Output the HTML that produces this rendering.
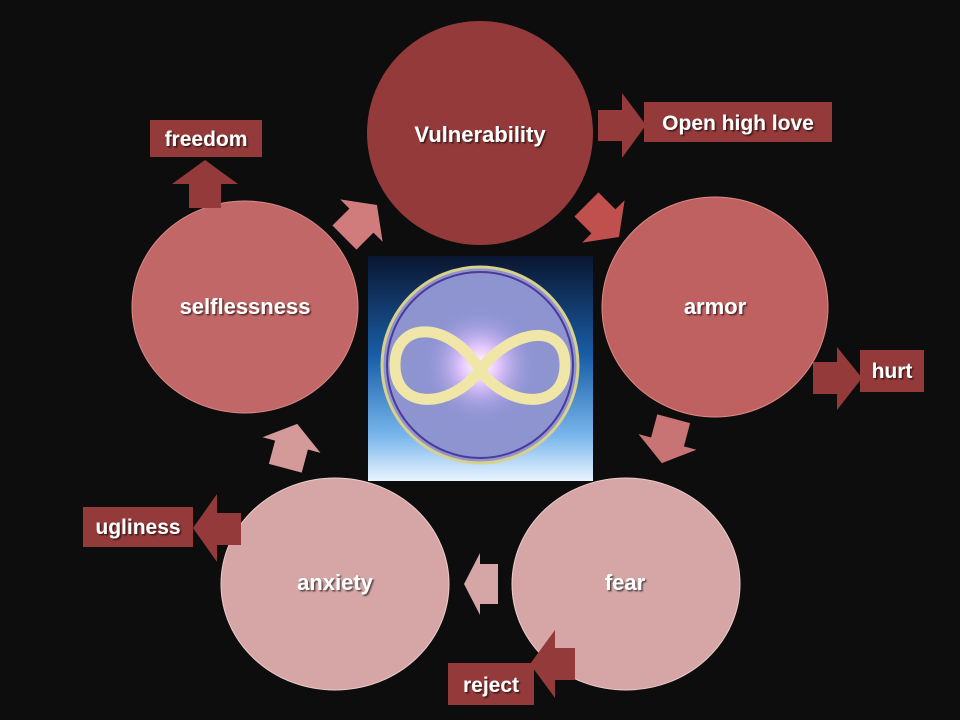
<!DOCTYPE html>
<html><head><meta charset="utf-8"><style>
body{margin:0;background:#0d0d0d;}
svg{display:block}
text{font-family:"Liberation Sans",sans-serif;font-weight:bold;fill:#fff;}
</style></head><body>
<svg width="960" height="720" viewBox="0 0 960 720">
<defs>
<filter id="sh"><feDropShadow dx="1.5" dy="1.5" stdDeviation="0.8" flood-color="#000" flood-opacity="0.6"/></filter>
<radialGradient id="glow" cx="0.5" cy="0.5" r="0.5">
<stop offset="0" stop-color="#fff"/><stop offset="0.3" stop-color="#e6c8ff"/><stop offset="1" stop-color="#8a8ad8" stop-opacity="0"/></radialGradient>
<linearGradient id="bg" x1="0" y1="0" x2="0" y2="1">
<stop offset="0" stop-color="#0a1630"/><stop offset="0.45" stop-color="#1a5fa8"/><stop offset="0.8" stop-color="#79b6ec"/><stop offset="1" stop-color="#eaf4ff"/></linearGradient>
</defs>
<rect width="960" height="720" fill="#0d0d0d"/>

<rect x="368" y="256" width="225" height="225" fill="url(#bg)"/>
<circle cx="480" cy="365" r="98" fill="#8e94d0" stroke="#d9d08a" stroke-width="3"/>
<circle cx="480" cy="365" r="93" fill="none" stroke="#4a3a9a" stroke-width="2"/>
<circle cx="480" cy="365" r="60" fill="url(#glow)"/>
<path d="M480,370 C450,320 395,320 395,365 C395,410 450,410 480,370 C510,330 565,320 565,365 C565,410 510,410 480,370Z" fill="none" stroke="#f0e6a8" stroke-width="11"/>

<ellipse cx="480" cy="133" rx="113" ry="112" fill="#943a3a"/>
<ellipse cx="715" cy="307" rx="113" ry="110" fill="#c06161" stroke="#d88" stroke-width="1"/>
<ellipse cx="626" cy="584" rx="114" ry="106" fill="#d6a6a6" stroke="#ecc" stroke-width="1"/>
<ellipse cx="335" cy="584" rx="114" ry="106" fill="#d6a6a6" stroke="#ecc" stroke-width="1"/>
<ellipse cx="245" cy="307" rx="113" ry="106" fill="#c26767" stroke="#d88" stroke-width="1"/>

<g filter="url(#sh)" font-size="22" text-anchor="middle">
<text x="480" y="142">Vulnerability</text>
<text x="715" y="314">armor</text>
<text x="625" y="590">fear</text>
<text x="335" y="590">anxiety</text>
<text x="245" y="314">selflessness</text>
</g>

<g>
<polygon points="-22,-17 2,-17 2,-30 24,0 2,30 2,17 -22,17" fill="#c0504d" transform="translate(602,220) rotate(45)"/>
<polygon points="-22,-17 2,-17 2,-30 24,0 2,30 2,17 -22,17" fill="#c87474" transform="translate(668,440) rotate(105)"/>
<polygon points="-17,-20 1,-20 1,-31 17,0 1,31 1,20 -17,20" fill="#d6a6a6" transform="translate(481,584) rotate(180)"/>
<polygon points="-22,-17 2,-17 2,-30 24,0 2,30 2,17 -22,17" fill="#d49a9a" transform="translate(291,447) rotate(-75)"/>
<polygon points="-22,-17 2,-17 2,-30 24,0 2,30 2,17 -22,17" fill="#d07c7c" transform="translate(360,222) rotate(-45)"/>
</g>

<g fill="#943a3a">
<polygon points="598,110 622,110 622,93 646,125 622,158 622,141 598,141"/>
<polygon points="189,208 189,184 172,184 205,160 238,184 221,184 221,208"/>
<polygon points="813,362 837,362 837,347 862,378 837,410 837,394 813,394"/>
<polygon points="241,513 217,513 217,494 193,528 217,562 217,545 241,545"/>
<polygon points="575,648 555,648 555,630 530,664 555,698 555,680 575,680"/>
</g>

<g fill="#943a3a">
<rect x="150" y="120" width="112" height="37"/>
<rect x="644" y="102" width="188" height="40"/>
<rect x="860" y="350" width="64" height="42"/>
<rect x="83" y="507" width="110" height="40"/>
<rect x="448" y="663" width="86" height="42"/>
</g>
<g filter="url(#sh)" font-size="21" text-anchor="middle">
<text x="206" y="146">freedom</text>
<text x="738" y="130">Open high love</text>
<text x="892" y="378">hurt</text>
<text x="138" y="534">ugliness</text>
<text x="491" y="692">reject</text>
</g>
</svg>
</body></html>
